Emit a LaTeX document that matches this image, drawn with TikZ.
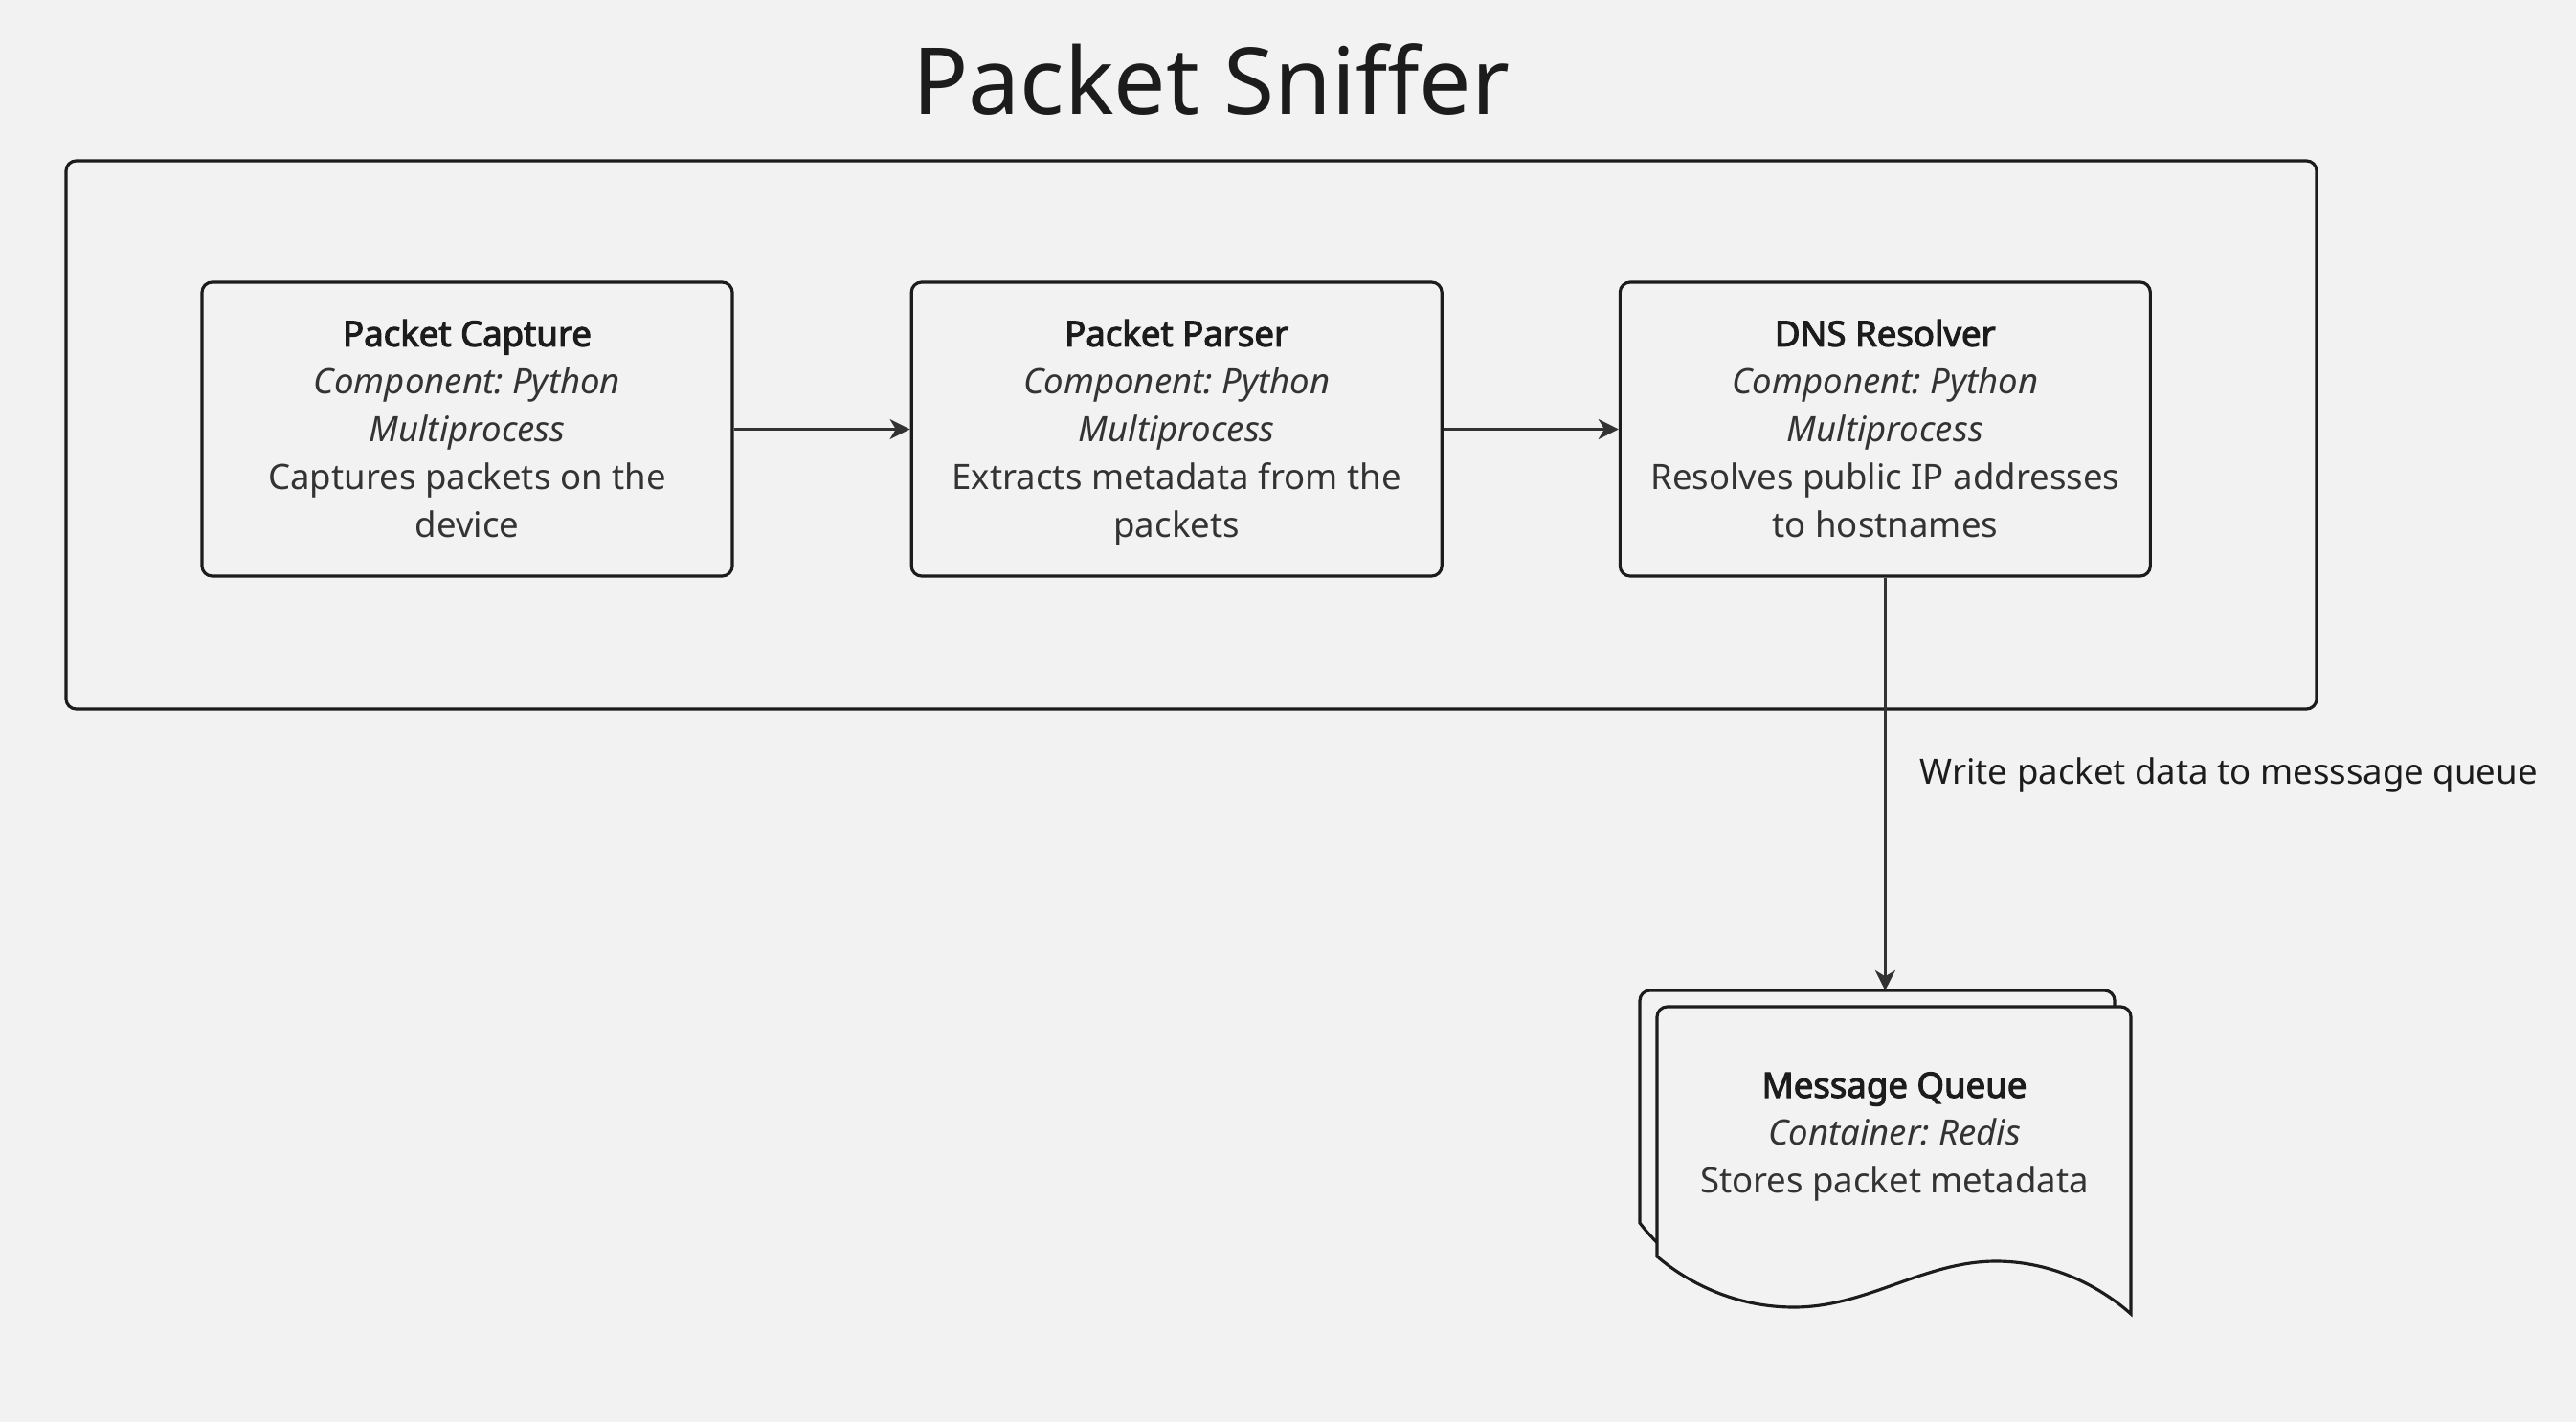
\documentclass[tikz,border=0pt]{standalone}
\usepackage{fontspec}
\setmainfont{Noto Sans}[BoldFont={Noto Sans}, BoldFeatures={FakeBold=3}]
\usetikzlibrary{positioning,arrows.meta}
\definecolor{bg}{HTML}{F2F2F2}
\definecolor{ink}{HTML}{1C1C1C}
\definecolor{txt}{HTML}{333333}
\frenchspacing

\begin{document}
\begin{tikzpicture}[
    comp/.style={draw=ink, line width=0.9pt, rounded corners=3pt, fill=bg,
      minimum width=5.54cm, minimum height=3.07cm, align=center, text=txt,
      font=\fontsize{10.4}{14.2}\selectfont},
    flow/.style={draw=txt, line width=0.7pt, -{Stealth[length=6pt,width=6pt,inset=1.8pt]}}]
        \fill[bg] (0,0) rectangle (26.91,14.86);
        \useasboundingbox (0,0) rectangle (26.91,14.86);

        \node[text=ink, font=\fontsize{27.5}{33}\selectfont] (title) at (12.65,14.03) {Packet Sniffer};

        % system boundary
        \draw[ink, line width=0.9pt, rounded corners=3pt] (0.69,7.45) rectangle (24.20,13.18);

        \node[comp] (capture) at (4.88,10.375) {\strut\textcolor{ink}{\textbf{Packet Capture}}\\ \textit{Component: Python}\\ \textit{Multiprocess}\\ Captures packets on the\\ device\vphantom{p}};
        \node[comp, right=1.84cm of capture] (parser) {\strut\textcolor{ink}{\textbf{Packet Parser}}\\ \textit{Component: Python}\\ \textit{Multiprocess}\\ Extracts metadata from the\\ packets\vphantom{p}};
        \node[comp, right=1.83cm of parser] (dns) {\strut\textcolor{ink}{\textbf{DNS Resolver}}\\ \textit{Component: Python}\\ \textit{Multiprocess}\\ Resolves public IP addresses\\ to hostnames\vphantom{p}};

        \draw[flow] (capture) -- (parser);
        \draw[flow] (parser) -- (dns);

        % message queue (stacked pages)
        \draw[ink, line width=0.9pt, fill=bg] (17.13,2.08) [rounded corners=3pt] -- (17.13,4.51) -- (22.09,4.51) [sharp corners] -- (22.09,1.30)
            .. controls (21.73,1.62) and (21.23,1.85) .. (20.68,1.85)
            .. controls (19.93,1.85) and (19.33,1.37) .. (18.57,1.37)
            .. controls (18.0,1.37) and (17.5,1.6) .. (17.13,2.08) -- cycle;
        \draw[ink, line width=0.9pt, fill=bg] (17.31,1.73) [rounded corners=3pt] -- (17.31,4.34) -- (22.26,4.34) [sharp corners] -- (22.26,1.13)
            .. controls (21.9,1.45) and (21.4,1.68) .. (20.85,1.68)
            .. controls (20.1,1.68) and (19.5,1.20) .. (18.74,1.20)
            .. controls (18.2,1.20) and (17.7,1.40) .. (17.31,1.73) -- cycle;
        \node[align=center, text=txt, font=\fontsize{10.4}{14.2}\selectfont] (queue) at (19.79,2.98) {\textcolor{ink}{\textbf{Message Queue}}\\ \textit{Container: Redis}\\ Stores packet metadata};
        \coordinate (qtop) at (dns.south |- 0,4.51);

        \draw[flow] (dns.south) -- node[pos=0.478, anchor=west, inner sep=0pt, xshift=0.35cm, text=ink, font=\fontsize{10.4}{14.2}\selectfont] (write) {Write packet data to messsage queue} (qtop);

    \end{tikzpicture}
\end{document}
